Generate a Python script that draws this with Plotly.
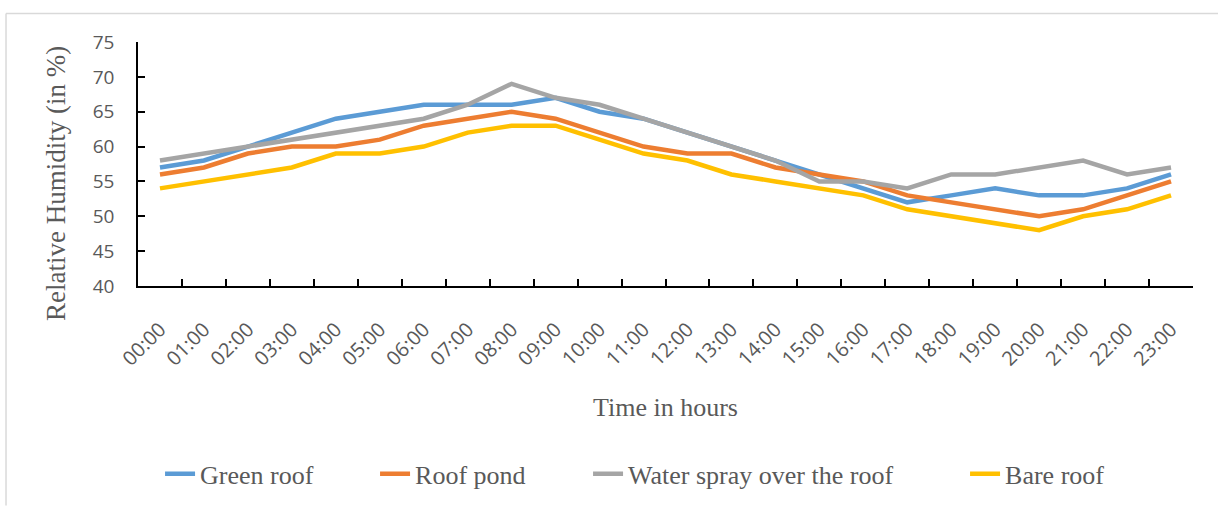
import plotly.graph_objects as go

hours = ["00:00", "01:00", "02:00", "03:00", "04:00", "05:00", "06:00", "07:00",
         "08:00", "09:00", "10:00", "11:00", "12:00", "13:00", "14:00", "15:00",
         "16:00", "17:00", "18:00", "19:00", "20:00", "21:00", "22:00", "23:00"]

green_roof = [57, 58, 60, 62, 64, 65, 66, 66, 66, 67, 65, 64, 62, 60, 58, 56, 54, 52, 53, 54, 53, 53, 54, 56]
roof_pond = [56, 57, 59, 60, 60, 61, 63, 64, 65, 64, 62, 60, 59, 59, 57, 56, 55, 53, 52, 51, 50, 51, 53, 55]
water_spray = [58, 59, 60, 61, 62, 63, 64, 66, 69, 67, 66, 64, 62, 60, 58, 55, 55, 54, 56, 56, 57, 58, 56, 57]
bare_roof = [54, 55, 56, 57, 59, 59, 60, 62, 63, 63, 61, 59, 58, 56, 55, 54, 53, 51, 50, 49, 48, 50, 51, 53]

series = [
    ("Green roof", green_roof, "#5B9BD5", 170),
    ("Roof pond", roof_pond, "#ED7D31", 168),
    ("Water spray over the roof", water_spray, "#A5A5A5", 332),
    ("Bare roof", bare_roof, "#FFC000", 100),
]

y_ticks = [40, 45, 50, 55, 60, 65, 70, 75]

fig = go.Figure()
for name, vals, color, lw in series:
    fig.add_trace(go.Scatter(x=hours, y=vals, name=name, mode="lines",
                             line=dict(color=color, width=4.5), legendwidth=lw))

serif = "Liberation Serif, Times New Roman, serif"
sans = "Open Sans, sans-serif"
grey_text = "#595959"

fig.update_layout(
    width=1218, height=509,
    margin=dict(l=138, r=25, t=42, b=219),
    paper_bgcolor="white", plot_bgcolor="white",
    showlegend=True,
    legend=dict(orientation="h", x=0.0209, xanchor="left", y=-0.770, yanchor="middle",
                font=dict(family=serif, size=26, color=grey_text),
                entrywidthmode="pixels", tracegroupgap=0),
    xaxis=dict(
        type="category", range=[-0.5, 23.5], tickson="boundaries",
        showline=True, linecolor="black", linewidth=1.5,
        ticks="inside", ticklen=7, tickcolor="black", tickwidth=1.5,
        tickangle=-45, ticklabelstandoff=22,
        tickfont=dict(family=sans, size=20, color=grey_text),
        showgrid=False, zeroline=False,
        title=dict(text="Time in hours", font=dict(family=serif, size=26, color=grey_text), standoff=28),
    ),
    yaxis=dict(
        range=[40, 75], tickvals=y_ticks,
        showline=True, linecolor="black", linewidth=1.5,
        ticks="inside", ticklen=7, tickcolor="black", tickwidth=1.5,
        ticklabelstandoff=18,
        tickfont=dict(family=sans, size=19, color=grey_text),
        showgrid=False, zeroline=False,
    ),
)

# y-axis title (placed like the original, slightly below the plot centre)
fig.add_annotation(text="Relative Humidity (in %)", textangle=-90, showarrow=False,
                   xref="paper", yref="paper", x=-0.0775, y=0.419,
                   xanchor="center", yanchor="middle",
                   font=dict(family=serif, size=27, color=grey_text))

# outer chart border (top and left edges visible in the crop)
fig.add_shape(type="line", xref="paper", yref="paper", x0=-0.1251, x1=1.03, y0=1.117, y1=1.117,
              line=dict(color="#D9D9D9", width=1.5))
fig.add_shape(type="line", xref="paper", yref="paper", x0=-0.1251, x1=-0.1251, y0=1.117, y1=-0.9,
              line=dict(color="#D9D9D9", width=1.5))

fig.write_html("out.html")
